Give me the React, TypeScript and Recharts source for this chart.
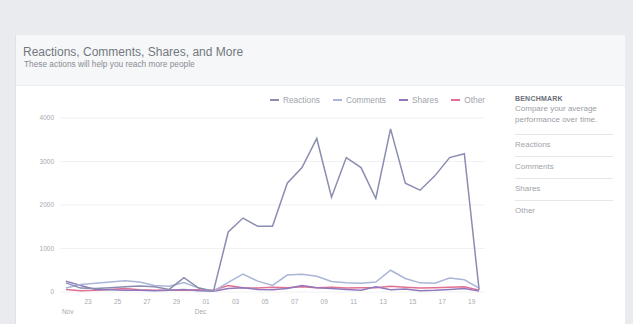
import { LineChart, Line, XAxis, YAxis, CartesianGrid } from "recharts";

const reactions = [210, 90, 80, 100, 120, 140, 120, 60, 330, 90, 20, 1380, 1700, 1510, 1510, 2500, 2860, 3530, 2180, 3090, 2860, 2150, 3750, 2500, 2340, 2670, 3090, 3180, 50];
const comments = [90, 170, 200, 230, 260, 230, 150, 130, 220, 90, 20, 220, 410, 250, 150, 390, 410, 360, 240, 210, 200, 230, 500, 310, 210, 200, 320, 280, 90];
const shares = [250, 150, 60, 50, 40, 40, 30, 40, 60, 30, 20, 80, 100, 60, 50, 80, 150, 100, 80, 60, 40, 120, 50, 70, 30, 40, 60, 80, 20];
const other = [60, 30, 40, 60, 80, 50, 40, 40, 40, 50, 40, 150, 100, 90, 110, 100, 120, 100, 110, 90, 100, 100, 130, 110, 90, 100, 110, 120, 40];

const dayTicks = [1.5, 3.5, 5.5, 7.5, 9.5, 11.5, 13.5, 15.5, 17.5, 19.5, 21.5, 23.5, 25.5, 27.5];
const dayLabels = ["23", "25", "27", "29", "01", "03", "05", "07", "09", "11", "13", "15", "17", "19"];
const monthTicks = [0, 9];
const monthLabels = ["Nov", "Dec"];
const yTicks = [0, 1000, 2000, 3000, 4000];

const series = [
  { key: "reactions", name: "Reactions", color: "#8a8db0" },
  { key: "comments", name: "Comments", color: "#aab5d8" },
  { key: "shares", name: "Shares", color: "#8f78bd" },
  { key: "other", name: "Other", color: "#e27090" },
];

const sideItems = ["Reactions", "Comments", "Shares", "Other"];

const data = reactions.map((r, i) => ({
  i,
  reactions: r,
  comments: comments[i],
  shares: shares[i],
  other: other[i],
}));

const DayTick = (props: any) => {
  const { x, y, payload } = props;
  const idx = dayTicks.indexOf(payload.value);
  return (
    <text x={x} y={y} dy={9} textAnchor="middle" fontSize={6.5} fill="#a6a9b0">
      {dayLabels[idx]}
    </text>
  );
};

const MonthTick = (props: any) => {
  const { x, y, payload } = props;
  const idx = monthTicks.indexOf(payload.value);
  return (
    <text x={x - 4} y={y} dy={8} textAnchor="start" fontSize={6.5} fill="#a6a9b0">
      {monthLabels[idx]}
    </text>
  );
};

export default function App() {
  return (
    <div
      style={{
        position: "relative",
        width: 633,
        height: 324,
        background: "#e9ebee",
        overflow: "hidden",
        fontFamily: "'Liberation Sans', Arial, sans-serif",
      }}
    >
      <style>{`body{margin:0}`}</style>
      <div
        style={{
          position: "absolute",
          left: 15,
          top: 35,
          width: 609,
          height: 300,
          background: "#ffffff",
          borderLeft: "1px solid #dfe1e5",
        }}
      >
        <div style={{ height: 50, background: "#f6f7f9", borderBottom: "1px solid #eceef1" }}>
          <div style={{ position: "absolute", left: 7, top: 10, fontSize: 12, color: "#73777f" }}>
            Reactions, Comments, Shares, and More
          </div>
          <div style={{ position: "absolute", left: 8, top: 24, fontSize: 8.3, color: "#888c94" }}>
            These actions will help you reach more people
          </div>
        </div>
      </div>

      <div style={{ position: "absolute", left: 515, top: 95, width: 98 }}>
        <div style={{ fontSize: 7, fontWeight: "bold", color: "#6b6f77", letterSpacing: 0.2 }}>BENCHMARK</div>
        <div style={{ fontSize: 8, color: "#9a9ea6", lineHeight: "11px", marginTop: 1 }}>
          Compare your average performance over time.
        </div>
        <div style={{ marginTop: 9 }}>
          {sideItems.map((s) => (
            <div
              key={s}
              style={{
                borderTop: "1px solid #e5e7ea",
                height: 21,
                lineHeight: "20px",
                fontSize: 8,
                color: "#a0a4ab",
              }}
            >
              {s}
            </div>
          ))}
        </div>
      </div>

      <div
        style={{
          position: "absolute",
          left: 270,
          top: 95,
          display: "flex",
          fontSize: 8.3,
          color: "#a0a4ab",
          whiteSpace: "nowrap",
        }}
      >
        {series.map((s) => (
          <div key={s.key} style={{ display: "flex", alignItems: "center", marginRight: 13 }}>
            <span style={{ display: "inline-block", width: 9, height: 2, background: s.color, marginRight: 4 }} />
            {s.name}
          </div>
        ))}
      </div>

      <div style={{ position: "absolute", left: 0, top: 0 }}>
        <LineChart width={500} height={324} data={data} margin={{ top: 118, right: 15, bottom: 2, left: 30 }}>
          <CartesianGrid horizontal vertical={false} stroke="#f0f1f3" />
          <XAxis
            dataKey="i"
            type="number"
            domain={[-0.4, 28.4]}
            ticks={dayTicks}
            tick={<DayTick />}
            tickLine={false}
            axisLine={false}
            tickSize={0}
            tickMargin={3}
            height={14}
            interval={0}
          />
          <XAxis
            xAxisId="month"
            dataKey="i"
            type="number"
            domain={[-0.4, 28.4]}
            ticks={monthTicks}
            tick={<MonthTick />}
            tickLine={false}
            axisLine={false}
            tickSize={0}
            tickMargin={0}
            height={16}
            interval={0}
          />
          <YAxis
            domain={[0, 4000]}
            ticks={yTicks}
            width={30}
            tickLine={false}
            axisLine={false}
            tickSize={0}
            tickMargin={6}
            tick={{ fontSize: 6.5, fill: "#a6a9b0" }}
          />
          {series
            .slice()
            .reverse()
            .map((s) => (
              <Line
                key={s.key}
                type="linear"
                dataKey={s.key}
                stroke={s.color}
                strokeWidth={1.5}
                dot={false}
                isAnimationActive={false}
              />
            ))}
        </LineChart>
      </div>
    </div>
  );
}
